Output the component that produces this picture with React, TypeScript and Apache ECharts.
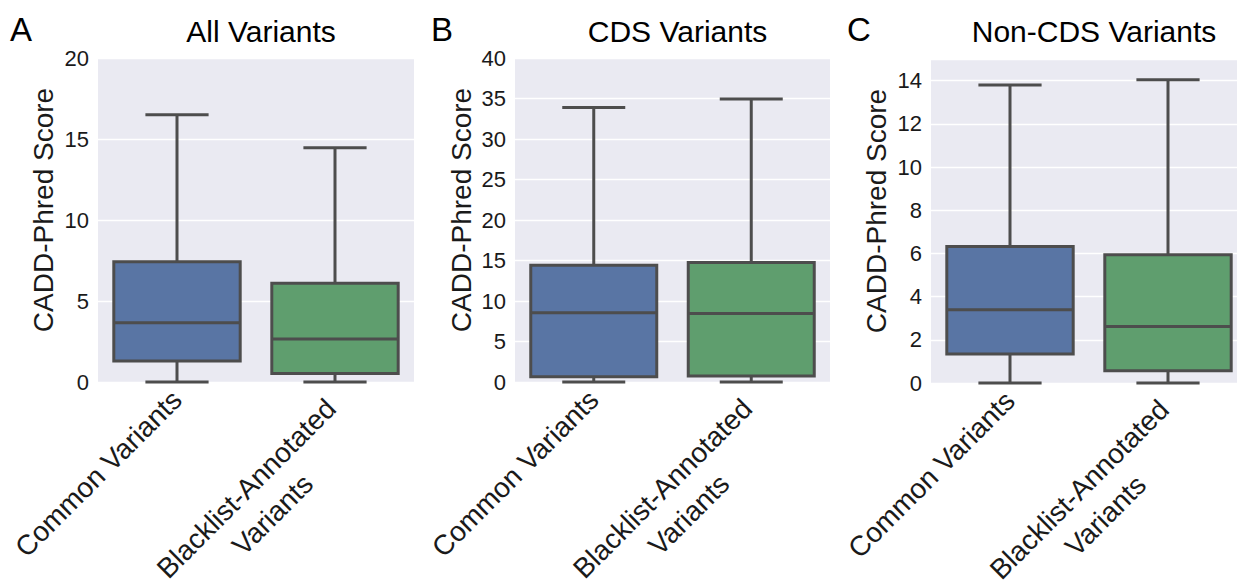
import React, { useEffect, useRef } from "react";
import * as echarts from "echarts";

const categories = ["Common Variants", "Blacklist-Annotated\nVariants"];
const panelTitles = ["All Variants", "CDS Variants", "Non-CDS Variants"];
const panelLetters = ["A", "B", "C"];
// [min, Q1, median, Q3, max]
const allVariants = [
  [0, 1.3, 3.66, 7.43, 16.5],
  [0, 0.53, 2.65, 6.1, 14.46],
];
const cdsVariants = [
  [0, 0.65, 8.55, 14.4, 33.9],
  [0, 0.74, 8.47, 14.75, 34.95],
];
const nonCdsVariants = [
  [0, 1.34, 3.39, 6.32, 13.8],
  [0, 0.57, 2.62, 5.94, 14.04],
];
const yMax = [20, 40, 15];
const yInterval = [5, 5, 2];
const boxColors = ["#5975a4", "#5f9e6e"];

const FONT = "Liberation Sans, Arial, sans-serif";
const LINE = "#4d4d4d";
const TXT = "#1a1a1a";

export default function App() {
  const ref = useRef<HTMLDivElement>(null);
  useEffect(() => {
    document.body.style.margin = "0";
    const chart = echarts.init(ref.current!, null, { renderer: "svg" });
    const grids = [
      { left: 98, top: 58, width: 316, height: 324 },
      { left: 515, top: 58, width: 315, height: 324 },
      { left: 931, top: 59, width: 316, height: 324 },
    ];
    const datasets = [allVariants, cdsVariants, nonCdsVariants];
    const nameCenters = [43, 461, 876];
    const renderItem = (params: any, api: any) => {
      const idx = api.value(0);
      const vals = [api.value(1), api.value(2), api.value(3), api.value(4), api.value(5)];
      const pMin = api.coord([idx, vals[0]]);
      const pQ1 = api.coord([idx, vals[1]]);
      const pMed = api.coord([idx, vals[2]]);
      const pQ3 = api.coord([idx, vals[3]]);
      const pMax = api.coord([idx, vals[4]]);
      const band = api.size([1, 0])[0];
      const bw = band * 0.8;
      const cw = bw / 2;
      const x = pMed[0];
      const ls = { stroke: LINE, lineWidth: 3 };
      return {
        type: "group",
        children: [
          { type: "line", shape: { x1: x, y1: pMax[1], x2: x, y2: pQ3[1] }, style: ls },
          { type: "line", shape: { x1: x, y1: pQ1[1], x2: x, y2: pMin[1] }, style: ls },
          { type: "line", shape: { x1: x - cw / 2, y1: pMax[1], x2: x + cw / 2, y2: pMax[1] }, style: ls },
          { type: "line", shape: { x1: x - cw / 2, y1: pMin[1], x2: x + cw / 2, y2: pMin[1] }, style: ls },
          {
            type: "rect",
            shape: { x: x - bw / 2, y: pQ3[1], width: bw, height: pQ1[1] - pQ3[1] },
            style: { fill: boxColors[idx], stroke: LINE, lineWidth: 3 },
          },
          { type: "line", shape: { x1: x - bw / 2, y1: pMed[1], x2: x + bw / 2, y2: pMed[1] }, style: ls },
        ],
      };
    };
    const xData = categories.map((c, i) =>
      i === 1 ? { value: c, textStyle: { padding: [44, 9, 0, 0] } } : { value: c }
    );
    const option: any = {
      animation: false,
      backgroundColor: "#ffffff",
      textStyle: { fontFamily: FONT },
      title: [
        ...panelTitles.map((t, i) => ({
          text: t,
          left: grids[i].left + grids[i].width / 2,
          textAlign: "center",
          top: 11,
          textStyle: { fontSize: 30, fontWeight: "normal", color: "#000", fontFamily: FONT },
        })),
        ...panelLetters.map((t, i) => ({
          text: t,
          left: [5, 426, 842][i],
          top: 8,
          textStyle: { fontSize: 33, fontWeight: "normal", color: "#000", fontFamily: FONT },
        })),
      ],
      grid: grids.map((g) => ({
        ...g,
        show: true,
        backgroundColor: "#eaeaf2",
        borderWidth: 0,
        containLabel: false,
        outerBoundsMode: "none",
      })),
      xAxis: grids.map((g, i) => ({
        type: "category",
        gridIndex: i,
        data: xData,
        boundaryGap: true,
        axisLine: { show: false },
        axisTick: { show: false },
        splitLine: { show: false },
        axisLabel: {
          rotate: 45,
          margin: 13,
          interval: 0,
          color: TXT,
          fontSize: 28,
          fontFamily: FONT,
          lineHeight: 37,
          formatter: (v: string) =>
            v
              .split("\n")
              .map((s) => `{c|${s}}`)
              .join("\n"),
          rich: { c: { align: "center", fontSize: 28, fontFamily: FONT, color: TXT, lineHeight: 37 } },
        },
      })),
      yAxis: grids.map((g, i) => ({
        type: "value",
        gridIndex: i,
        min: 0,
        max: yMax[i],
        interval: yInterval[i],
        name: "CADD-Phred Score",
        nameLocation: "middle",
        nameGap: g.left - nameCenters[i] - 14,
        nameTextStyle: { fontSize: 28, color: TXT, fontFamily: FONT, padding: [0, 0, 0, 20] },
        axisLine: { show: false },
        axisTick: { show: false },
        splitLine: { show: true, lineStyle: { color: "#ffffff", width: 1.3 } },
        axisLabel: {
          margin: 9,
          color: TXT,
          fontSize: 22,
          fontFamily: FONT,
          showMaxLabel: i === 2 ? false : true,
        },
      })),
      series: datasets.map((d, i) => ({
        type: "custom",
        xAxisIndex: i,
        yAxisIndex: i,
        renderItem,
        encode: { x: 0, y: [1, 2, 3, 4, 5] },
        data: d.map((v, j) => [j, ...v]),
        clip: false,
      })),
    };
    chart.setOption(option);
    return () => chart.dispose();
  }, []);
  return <div ref={ref} style={{ width: 1237, height: 584 }} />;
}
